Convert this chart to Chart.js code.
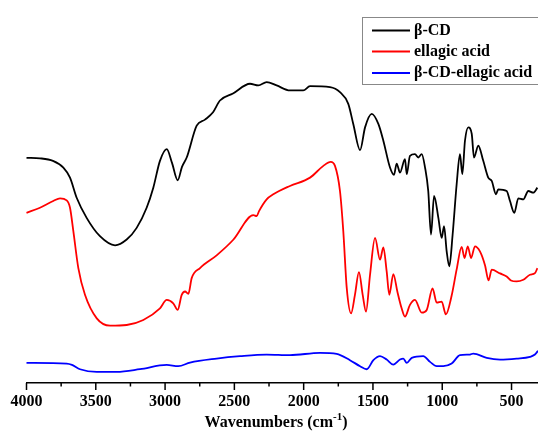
<!DOCTYPE html>
<html>
<head>
<meta charset="utf-8">
<script src="https://cdn.jsdelivr.net/npm/chart.js@4"></script>
<style>
  html, body { margin: 0; padding: 0; background: #fff; }
</style>
</head>
<body>
<canvas id="ftir" width="538" height="433"></canvas>
<script>
// series labels / colours
const seriesNames = ["β-CD", "ellagic acid", "β-CD-ellagic acid"];
const seriesColors = ["#000000", "#ff0000", "#0000ff"];

// x axis tick labels (cm-1), minor ticks halfway between
const tickLabels = [4000, 3500, 3000, 2500, 2000, 1500, 1000, 500];
const minorTicks = [3750, 3250, 2750, 2250, 1750, 1250, 750];

// β-CD (wavenumber, transmittance a.u.)
const cdWave = [4000, 3903, 3809, 3734, 3686, 3638, 3566, 3470, 3361, 3277, 3205, 3133, 3085, 3037, 2988, 2950, 2909, 2878, 2844, 2772,
  2712, 2654, 2604, 2510, 2387, 2327, 2267, 2195, 2099, 2003, 1954, 1810, 1738, 1678, 1642, 1593, 1557, 1509, 1461, 1425,
  1377, 1348, 1329, 1305, 1269, 1256, 1233, 1197, 1173, 1148, 1124, 1101, 1081, 1059, 1028, 1004, 987, 968, 949, 925,
  896, 872, 855, 836, 812, 787, 771, 740, 704, 668, 643, 612, 596, 535, 511, 480, 451, 415, 379, 343, 313];
const cdT = [224, 223.5, 221, 214.3, 204.3, 184.3, 164.3, 146, 137, 142.7, 154.3, 174.3, 194.3, 221, 232.7, 219, 201.7, 215, 224.3, 256,
  262, 269.3, 281, 288, 297.7, 296, 299.3, 296, 291, 291, 295.3, 294.3, 289.3, 277.7, 257.7, 231.7, 254.3, 267.7, 257.7, 241,
  214.3, 207, 218.3, 209.3, 222.7, 207.7, 226, 227.7, 224.3, 227.7, 214.3, 191, 147.7, 186, 164.3, 144.3, 156, 131, 116, 147.7,
  197.7, 227.7, 207.7, 241, 254.3, 247.7, 224.3, 236, 221, 204.3, 201, 187.7, 192.7, 191, 181, 169.3, 183.7, 182.7, 191, 189.3, 194.3];

// ellagic acid
const eaWave = [4000, 3903, 3807, 3758, 3710, 3686, 3662, 3626, 3578, 3493, 3397, 3277, 3157, 3037, 2988, 2941, 2909, 2880, 2856, 2832,
  2808, 2748, 2628, 2508, 2363, 2339, 2322, 2267, 2219, 2099, 1954, 1858, 1805, 1774, 1738, 1714, 1689, 1658, 1630, 1601,
  1574, 1550, 1521, 1485, 1449, 1425, 1401, 1382, 1353, 1324, 1293, 1269, 1233, 1197, 1148, 1112, 1070, 1040, 1004, 974,
  932, 896, 860, 839, 816, 792, 764, 728, 691, 666, 643, 583, 535, 504, 463, 415, 367, 331, 313];
const eaT = [169.3, 174.3, 181, 183.7, 181.7, 174.3, 151, 114.3, 87.7, 64.3, 57, 57.7, 62.7, 74.3, 82.7, 79.3, 72.7, 87.7, 91, 88.7,
  104.3, 114.3, 127, 142.5, 167, 166, 171, 182.7, 187.7, 196, 204.3, 216, 220, 216, 191, 151, 94.3, 69.3, 87.7, 110.3,
  87.7, 71, 107.7, 144.3, 122.7, 135, 111, 87.7, 108.3, 91, 74.3, 66, 77.7, 82.7, 70, 72.7, 94, 80, 81, 68.3,
  87, 113, 135.5, 124.3, 136, 124.3, 136, 131, 117, 102, 112.7, 109, 106, 102, 101, 102.7, 107.7, 109.3, 114.3];

// β-CD-ellagic acid
const incWave = [4000, 3710, 3672, 3614, 3493, 3349, 3181, 2988, 2905, 2820, 2628, 2459, 2267, 2099, 1882, 1762, 1666, 1593, 1545, 1497,
  1449, 1401, 1353, 1305, 1281, 1256, 1220, 1137, 1088, 1040, 992, 932, 872, 800, 776, 679, 583, 463, 367, 331, 309];
const incT = [20, 19.3, 18, 13.7, 11, 11, 13.7, 18, 16.7, 20.3, 24.3, 26.7, 28.3, 27.7, 30, 29, 22.7, 16.7, 13.7, 22.7,
  26.7, 23.3, 18.3, 23.3, 24.3, 20, 25, 26.7, 21, 16.7, 16.7, 19.3, 27.7, 28.3, 29.3, 25, 23.3, 24.3, 26, 28.3, 32];

const toPoints = (w, t) => w.map((x, i) => ({ x: x, y: t[i] }));
const allSeries = [toPoints(cdWave, cdT), toPoints(eaWave, eaT), toPoints(incWave, incT)];

const serifBold = { family: "'Liberation Serif', 'Times New Roman', serif", weight: "bold", size: 16 };

// major/minor ticks under the axis line + axis title
const axisTicks = {
  id: "axisTicks",
  afterDraw(chart) {
    const sx = chart.scales.x;
    const ctx = chart.ctx;
    const y0 = chart.chartArea.bottom;
    ctx.save();
    ctx.strokeStyle = "#000";
    ctx.lineWidth = 1.5;
    sx.ticks.forEach((t) => {
      const px = sx.getPixelForValue(t.value);
      const len = tickLabels.includes(t.value) ? 7 : 3.5;
      ctx.beginPath();
      ctx.moveTo(px, y0);
      ctx.lineTo(px, y0 + len);
      ctx.stroke();
    });
    const cx = 276, by = 427;
    ctx.fillStyle = "#000";
    ctx.textBaseline = "alphabetic";
    ctx.textAlign = "left";
    const big = "bold 16px 'Liberation Serif', serif";
    const small = "bold 11px 'Liberation Serif', serif";
    ctx.font = big;
    const a = "Wavenumbers (cm", c = ")";
    const wa = ctx.measureText(a).width, wc = ctx.measureText(c).width;
    ctx.font = small;
    const wb = ctx.measureText("-1").width;
    const x = cx - (wa + wb + wc) / 2;
    ctx.font = big;
    ctx.fillText(a, x, by);
    ctx.font = small;
    ctx.fillText("-1", x + wa, by - 7);
    ctx.font = big;
    ctx.fillText(c, x + wa + wb, by);
    ctx.restore();
  },
};

// boxed legend, top right
const boxLegend = {
  id: "boxLegend",
  afterDraw(chart) {
    const ctx = chart.ctx;
    ctx.save();
    ctx.strokeStyle = "#888";
    ctx.lineWidth = 1;
    ctx.strokeRect(362.5, 17.5, 190, 67);
    const rows = [30.5, 51.5, 73];
    ctx.font = "bold 16px 'Liberation Serif', serif";
    ctx.textBaseline = "middle";
    chart.data.datasets.forEach((ds, i) => {
      ctx.strokeStyle = ds.borderColor;
      ctx.lineWidth = 1.8;
      ctx.beginPath();
      ctx.moveTo(372, rows[i]);
      ctx.lineTo(410, rows[i]);
      ctx.stroke();
      ctx.fillStyle = "#000";
      ctx.fillText(ds.label, 414, rows[i]);
    });
    ctx.restore();
  },
};

new Chart(document.getElementById("ftir"), {
  type: "line",
  data: {
    datasets: allSeries.map((pts, i) => ({
      label: seriesNames[i],
      data: pts,
      borderColor: seriesColors[i],
      backgroundColor: seriesColors[i],
      borderWidth: 1.8,
      pointRadius: 0,
      cubicInterpolationMode: "monotone",
      fill: false,
      clip: false,
    })),
  },
  options: {
    responsive: false,
    animation: false,
    layout: { padding: { left: 26.5, right: 0, top: 0, bottom: 12.8 } },
    plugins: {
      legend: { display: false },
      tooltip: { enabled: false },
    },
    scales: {
      x: {
        type: "linear",
        reverse: true,
        min: 309,
        max: 4000,
        afterBuildTicks: (scale) => {
          scale.ticks = tickLabels.concat(minorTicks)
            .sort((a, b) => b - a)
            .map((v) => ({ value: v }));
        },
        grid: { display: false, drawTicks: false },
        border: { display: true, color: "#000", width: 1.5 },
        ticks: {
          autoSkip: false,
          maxRotation: 0,
          padding: 9,
          color: "#000",
          font: serifBold,
          callback: (v) => (tickLabels.includes(v) ? String(v) : ""),
        },
      },
      y: {
        display: false,
        min: 0,
        max: 381,
      },
    },
  },
  plugins: [axisTicks, boxLegend],
});
</script>
</body>
</html>
